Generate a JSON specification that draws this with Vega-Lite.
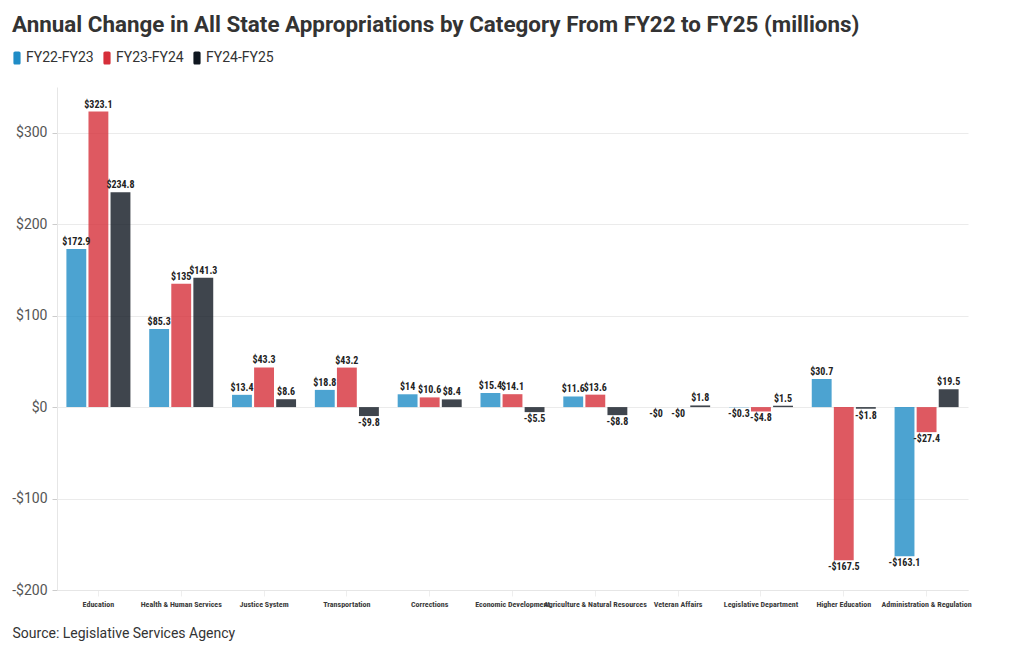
{
  "$schema": "https://vega.github.io/schema/vega-lite/v6.json",
  "width": 911,
  "height": 503,
  "autosize": "none",
  "padding": {"left": 57, "top": 87, "right": 52, "bottom": 60},
  "background": "white",
  "title": {
    "text": "Annual Change in All State Appropriations by Category From FY22 to FY25 (millions)",
    "font": "Roboto",
    "fontSize": 22.4,
    "fontWeight": "bold",
    "color": "#333333",
    "anchor": "start",
    "frame": "group",
    "dx": -45,
    "offset": 15
  },
  "config": {
    "view": {"stroke": null},
    "font": "Roboto"
  },
  "data": {
    "values": [
      {"category": "Education", "period": "FY22-FY23", "value": 172.9},
      {"category": "Education", "period": "FY23-FY24", "value": 323.1},
      {"category": "Education", "period": "FY24-FY25", "value": 234.8},
      {"category": "Health & Human Services", "period": "FY22-FY23", "value": 85.3},
      {"category": "Health & Human Services", "period": "FY23-FY24", "value": 135},
      {"category": "Health & Human Services", "period": "FY24-FY25", "value": 141.3},
      {"category": "Justice System", "period": "FY22-FY23", "value": 13.4},
      {"category": "Justice System", "period": "FY23-FY24", "value": 43.3},
      {"category": "Justice System", "period": "FY24-FY25", "value": 8.6},
      {"category": "Transportation", "period": "FY22-FY23", "value": 18.8},
      {"category": "Transportation", "period": "FY23-FY24", "value": 43.2},
      {"category": "Transportation", "period": "FY24-FY25", "value": -9.8},
      {"category": "Corrections", "period": "FY22-FY23", "value": 14},
      {"category": "Corrections", "period": "FY23-FY24", "value": 10.6},
      {"category": "Corrections", "period": "FY24-FY25", "value": 8.4},
      {"category": "Economic Development", "period": "FY22-FY23", "value": 15.4},
      {"category": "Economic Development", "period": "FY23-FY24", "value": 14.1},
      {"category": "Economic Development", "period": "FY24-FY25", "value": -5.5},
      {"category": "Agriculture & Natural Resources", "period": "FY22-FY23", "value": 11.6},
      {"category": "Agriculture & Natural Resources", "period": "FY23-FY24", "value": 13.6},
      {"category": "Agriculture & Natural Resources", "period": "FY24-FY25", "value": -8.8},
      {"category": "Veteran Affairs", "period": "FY22-FY23", "value": -0.02},
      {"category": "Veteran Affairs", "period": "FY23-FY24", "value": -0.02},
      {"category": "Veteran Affairs", "period": "FY24-FY25", "value": 1.8},
      {"category": "Legislative Department", "period": "FY22-FY23", "value": -0.3},
      {"category": "Legislative Department", "period": "FY23-FY24", "value": -4.8},
      {"category": "Legislative Department", "period": "FY24-FY25", "value": 1.5},
      {"category": "Higher Education", "period": "FY22-FY23", "value": 30.7},
      {"category": "Higher Education", "period": "FY23-FY24", "value": -167.5},
      {"category": "Higher Education", "period": "FY24-FY25", "value": -1.8},
      {"category": "Administration & Regulation", "period": "FY22-FY23", "value": -163.1},
      {"category": "Administration & Regulation", "period": "FY23-FY24", "value": -27.4},
      {"category": "Administration & Regulation", "period": "FY24-FY25", "value": 19.5}
    ]
  },
  "transform": [
    {"calculate": "(datum.value < 0 ? '-$' : '$') + format(abs(datum.value), '.1~f')", "as": "label"}
  ],
  "encoding": {
    "x": {
      "field": "category",
      "type": "nominal",
      "sort": null,
      "scale": {"paddingInner": 0.227, "paddingOuter": 0.1135},
      "axis": {
        "labelAngle": 0,
        "labelFont": "Liberation Sans Narrow, Roboto Condensed, Roboto",
        "labelFontSize": 8,
        "labelFontWeight": "bold",
        "labelColor": "#3a3a3a",
        "labelPadding": 4,
        "labelLimit": 200,
        "labelOverlap": false,
        "ticks": true,
        "tickSize": 6,
        "tickColor": "#eeeeee",
        "domain": true,
        "domainColor": "#e6e6e6",
        "title": "Source: Legislative Services Agency",
        "titleFont": "Roboto",
        "titleFontSize": 14,
        "titleFontWeight": "normal",
        "titleColor": "#333333",
        "titleAnchor": "start",
        "titleAlign": "left",
        "titleBaseline": "alphabetic",
        "titleX": -45,
        "titleY": 47
      }
    },
    "xOffset": {
      "field": "period",
      "type": "nominal",
      "scale": {"paddingInner": 0.1}
    },
    "y": {
      "field": "value",
      "type": "quantitative",
      "scale": {"domain": [-200, 350], "nice": false},
      "axis": {
        "values": [-200, -100, 0, 100, 200, 300],
        "labelExpr": "(datum.value < 0 ? '-$' : '$') + abs(datum.value)",
        "labelFont": "Roboto",
        "labelFontSize": 14,
        "labelColor": "#555555",
        "labelPadding": 5,
        "tickSize": 5,
        "tickColor": "#cccccc",
        "domain": true,
        "domainColor": "#e6e6e6",
        "gridColor": "#ebebeb",
        "title": null
      }
    }
  },
  "layer": [
    {
      "mark": {"type": "bar", "opacity": 0.8},
      "encoding": {
        "color": {
          "field": "period",
          "type": "nominal",
          "scale": {"domain": ["FY22-FY23", "FY23-FY24", "FY24-FY25"], "range": ["#1f8cc6", "#d62f3a", "#0f1720"]},
          "legend": {
            "orient": "none",
            "legendX": -47,
            "legendY": -36,
            "direction": "horizontal",
            "title": null,
            "symbolType": "M-0.3,-1 H0.3 A0.25,0.25 0 0 1 0.55,-0.75 V0.75 A0.25,0.25 0 0 1 0.3,1 H-0.3 A0.25,0.25 0 0 1 -0.55,0.75 V-0.75 A0.25,0.25 0 0 1 -0.3,-1 Z",
            "symbolSize": 170,
            "symbolOpacity": 1,
            "symbolStrokeWidth": 0,
            "labelFont": "Roboto",
            "labelFontSize": 14,
            "labelColor": "#333333",
            "labelOffset": 2,
            "columnPadding": 6
          }
        }
      }
    },
    {
      "transform": [{"filter": "datum.value >= 0"}],
      "mark": {"type": "text", "baseline": "bottom", "dy": -2, "font": "Liberation Sans Narrow, Roboto Condensed, Roboto", "fontSize": 10, "fontWeight": "bold", "color": "#222222"},
      "encoding": {"text": {"field": "label"}}
    },
    {
      "transform": [{"filter": "datum.value < 0"}],
      "mark": {"type": "text", "baseline": "top", "dy": 2, "font": "Liberation Sans Narrow, Roboto Condensed, Roboto", "fontSize": 10, "fontWeight": "bold", "color": "#222222"},
      "encoding": {"text": {"field": "label"}}
    }
  ]
}
